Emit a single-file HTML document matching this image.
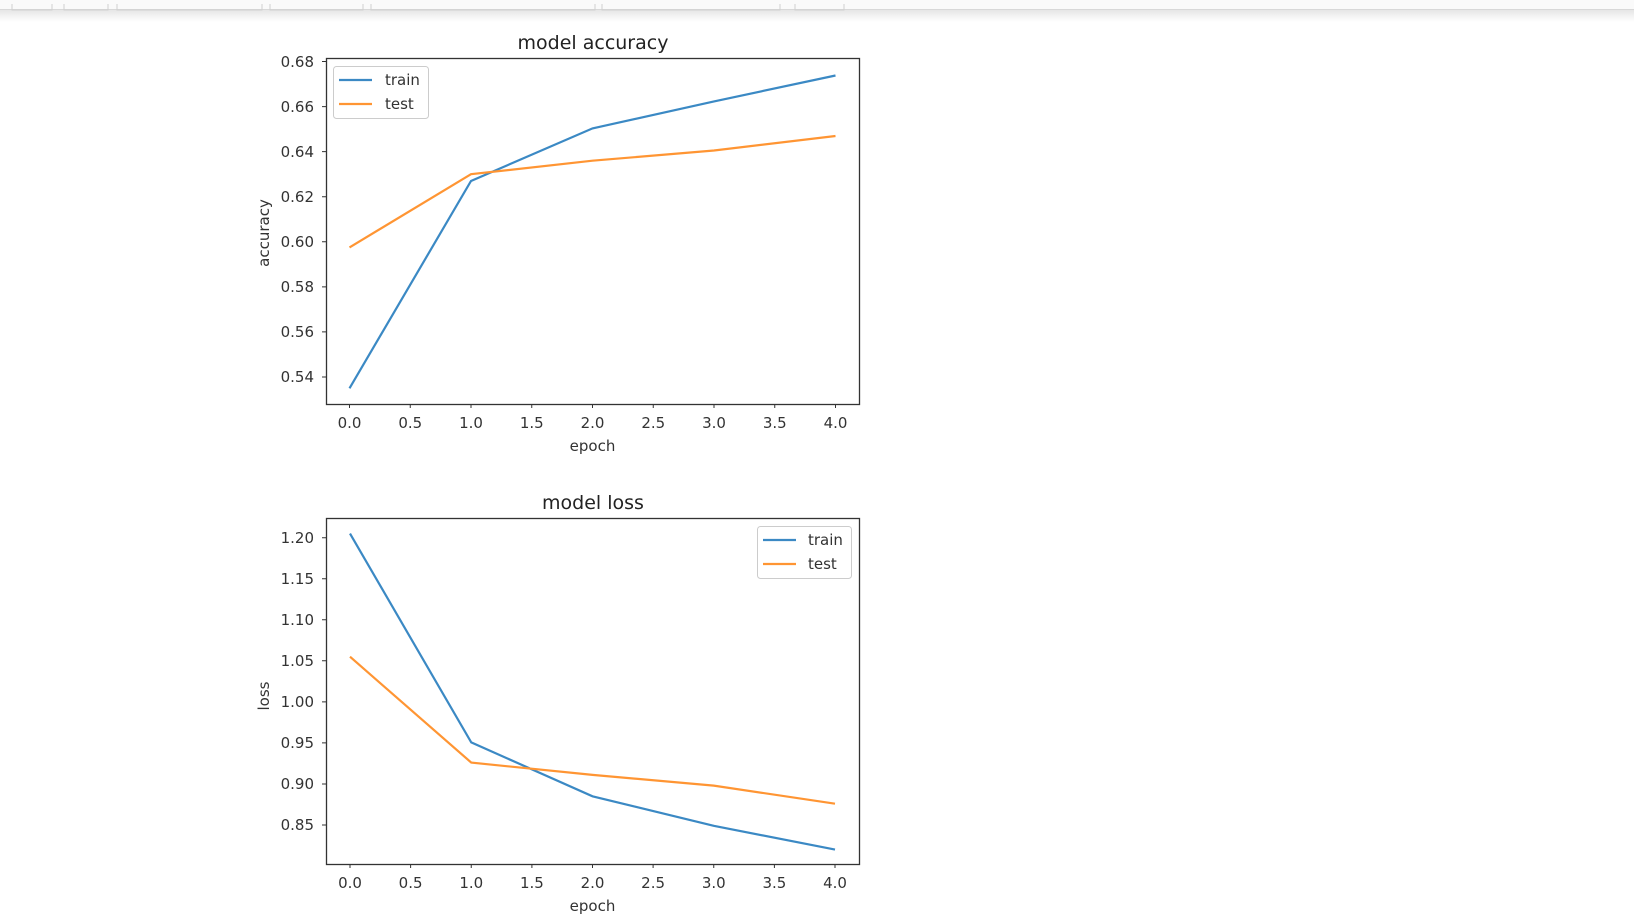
<!DOCTYPE html>
<html><head><style>
body{margin:0;background:#fff;}
svg{display:block;font-family:"DejaVu Sans","Liberation Sans",sans-serif;}
</style></head><body>
<svg width="1634" height="919" viewBox="0 0 1634 919" xmlns="http://www.w3.org/2000/svg">
<defs><linearGradient id="sh" x1="0" y1="0" x2="0" y2="1"><stop offset="0" stop-color="#e6e6e6"/><stop offset="1" stop-color="#fff"/></linearGradient></defs>
<rect x="0" y="0" width="1634" height="10" fill="#fafafa"/>
<rect x="0" y="10" width="1634" height="12" fill="url(#sh)"/>
<line x1="0" y1="9.5" x2="1634" y2="9.5" stroke="#d8d8d8"/>
<g fill="none" stroke="#d0d0d0"><path d="M12 4v6h40v-6M64 4v6h44v-6M117 4v6h145v-6M270 4v6h93v-6M371 4v6h224v-6M602 4v6h178v-6M795 4v6h49v-6"/></g>

<!-- Accuracy -->
<text x="593" y="49" font-size="19" text-anchor="middle" fill="#222">model accuracy</text>
<rect x="326.5" y="58.5" width="533" height="346" fill="none" stroke="#333" stroke-width="1.3"/>
<g font-size="15" fill="#333" text-anchor="end">
<text x="314" y="67">0.68</text><text x="314" y="112">0.66</text><text x="314" y="157">0.64</text><text x="314" y="202">0.62</text><text x="314" y="247">0.60</text><text x="314" y="292">0.58</text><text x="314" y="337">0.56</text><text x="314" y="382">0.54</text>
</g>
<g stroke="#333"><path d="M322 61.5h4M322 106.6h4M322 151.6h4M322 196.7h4M322 241.8h4M322 286.9h4M322 331.9h4M322 377h4"/>
<path d="M349.5 404v4M410.25 404v4M471 404v4M531.75 404v4M592.5 404v4M653.25 404v4M714 404v4M774.75 404v4M835.5 404v4"/></g>
<g font-size="15" fill="#333" text-anchor="middle">
<text x="349.5" y="428">0.0</text><text x="410.25" y="428">0.5</text><text x="471" y="428">1.0</text><text x="531.75" y="428">1.5</text><text x="592.5" y="428">2.0</text><text x="653.25" y="428">2.5</text><text x="714" y="428">3.0</text><text x="774.75" y="428">3.5</text><text x="835.5" y="428">4.0</text>
</g>
<text x="592.5" y="451" font-size="15" fill="#333" text-anchor="middle">epoch</text>
<text transform="translate(269,233) rotate(-90)" font-size="15" fill="#333" text-anchor="middle">accuracy</text>
<polyline fill="none" stroke="#3b89c4" stroke-width="2.2" points="349.5,388.3 471,181 592.5,128.4 714,101.4 835.5,75.5"/>
<polyline fill="none" stroke="#ff9533" stroke-width="2.2" points="349.5,247.4 471,174.2 592.5,160.7 714,150.5 835.5,136"/>
<rect x="333.5" y="66.5" width="95" height="52" rx="3" fill="#fff" fill-opacity="0.8" stroke="#ccc"/>
<line x1="339" y1="80" x2="372" y2="80" stroke="#3b89c4" stroke-width="2.2"/>
<line x1="339" y1="104" x2="372" y2="104" stroke="#ff9533" stroke-width="2.2"/>
<text x="385" y="85" font-size="15" fill="#333">train</text>
<text x="385" y="109" font-size="15" fill="#333">test</text>

<!-- Loss -->
<text x="593" y="509" font-size="19" text-anchor="middle" fill="#222">model loss</text>
<rect x="326.5" y="518.5" width="533" height="346" fill="none" stroke="#333" stroke-width="1.3"/>
<g font-size="15" fill="#333" text-anchor="end">
<text x="314" y="543">1.20</text><text x="314" y="584">1.15</text><text x="314" y="625">1.10</text><text x="314" y="666">1.05</text><text x="314" y="707">1.00</text><text x="314" y="748">0.95</text><text x="314" y="789">0.90</text><text x="314" y="830">0.85</text>
</g>
<g stroke="#333"><path d="M322 537.7h4M322 578.7h4M322 619.8h4M322 660.8h4M322 701.9h4M322 742.9h4M322 784h4M322 825h4"/>
<path d="M350 864v4M410.6 864v4M471.25 864v4M531.9 864v4M592.5 864v4M653.1 864v4M713.75 864v4M774.4 864v4M835 864v4"/></g>
<g font-size="15" fill="#333" text-anchor="middle">
<text x="350" y="888">0.0</text><text x="410.6" y="888">0.5</text><text x="471.25" y="888">1.0</text><text x="531.9" y="888">1.5</text><text x="592.5" y="888">2.0</text><text x="653.1" y="888">2.5</text><text x="713.75" y="888">3.0</text><text x="774.4" y="888">3.5</text><text x="835" y="888">4.0</text>
</g>
<text x="592.5" y="911" font-size="15" fill="#333" text-anchor="middle">epoch</text>
<text transform="translate(269,696) rotate(-90)" font-size="15" fill="#333" text-anchor="middle">loss</text>
<polyline fill="none" stroke="#3b89c4" stroke-width="2.2" points="350,533.6 471.25,742.4 592.5,796.3 713.75,825.8 835,849.6"/>
<polyline fill="none" stroke="#ff9533" stroke-width="2.2" points="350,656.7 471.25,762.6 592.5,774.9 713.75,785.6 835,803.7"/>
<rect x="757.5" y="526.5" width="94" height="52" rx="3" fill="#fff" fill-opacity="0.8" stroke="#ccc"/>
<line x1="763" y1="540" x2="796" y2="540" stroke="#3b89c4" stroke-width="2.2"/>
<line x1="763" y1="564" x2="796" y2="564" stroke="#ff9533" stroke-width="2.2"/>
<text x="808" y="545" font-size="15" fill="#333">train</text>
<text x="808" y="569" font-size="15" fill="#333">test</text>
</svg>
</body></html>
